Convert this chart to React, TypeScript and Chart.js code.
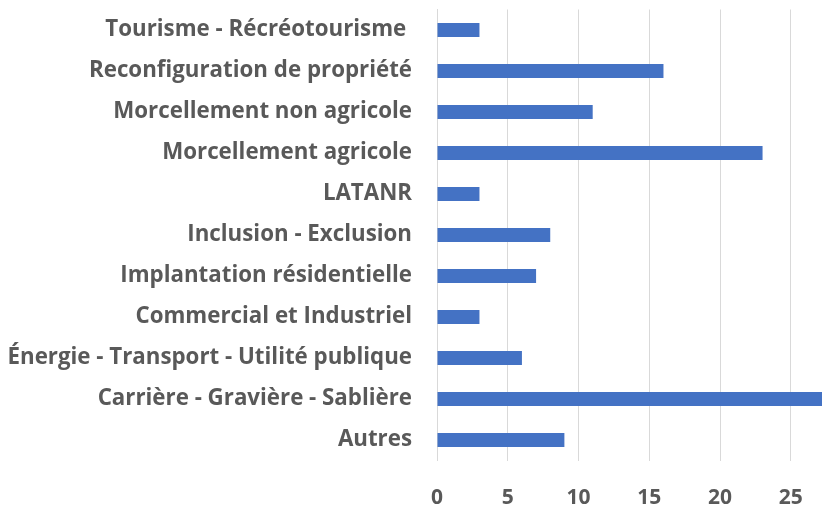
import React, { useEffect, useRef } from "react";
import { Chart, registerables } from "chart.js";

Chart.register(...registerables);

const categories = [
  "Tourisme - Récréotourisme ",
  "Reconfiguration de propriété",
  "Morcellement non agricole",
  "Morcellement agricole",
  "LATANR",
  "Inclusion - Exclusion",
  "Implantation résidentielle",
  "Commercial et Industriel",
  "Énergie - Transport - Utilité publique",
  "Carrière - Gravière - Sablière",
  "Autres",
];
const values = [3, 16, 11, 23, 3, 8, 7, 3, 6, 28, 9];
const xMin = 0;
const xMax = 27.2;
const xStep = 5;

export default function App() {
  const ref = useRef<HTMLCanvasElement | null>(null);
  useEffect(() => {
    if (!ref.current) return;
    const font = { family: "'Open Sans', sans-serif", weight: "bold" as const, size: 22.3 };
    const chart = new Chart(ref.current, {
      type: "bar",
      data: {
        labels: categories,
        datasets: [
          {
            data: values,
            backgroundColor: "#4472C4",
            barPercentage: 0.34,
            categoryPercentage: 1,
          },
        ],
      },
      options: {
        indexAxis: "y",
        animation: false,
        responsive: false,
        maintainAspectRatio: false,
        layout: { padding: { top: 9.5, right: 0, bottom: 0, left: 0 } },
        plugins: { legend: { display: false }, tooltip: { enabled: false } },
        scales: {
          x: {
            min: xMin,
            max: xMax,
            ticks: {
              stepSize: xStep,
              includeBounds: false,
              color: "#595959",
              font: { ...font, size: 21 },
              padding: 25,
            },
            grid: { color: "#d9d9d9", drawTicks: false, tickLength: 0 },
            border: { display: false },
            afterFit: (s: any) => {
              s.height = 47.5;
              s.paddingLeft = 0;
              s.paddingRight = 0;
            },
          },
          y: {
            ticks: { color: "#595959", font, padding: 25, autoSkip: false },
            grid: { display: false, drawTicks: false },
            border: { display: true, color: "#d9d9d9" },
            afterFit: (s: any) => {
              s.width = 437;
              s.paddingTop = 0;
              s.paddingBottom = 0;
            },
          },
        },
      },
    });
    return () => chart.destroy();
  }, []);
  return (
    <div style={{ position: "fixed", left: 0, top: 0, width: 822, height: 508, background: "#fff" }}>
      <canvas ref={ref} width={822} height={508} style={{ display: "block" }} />
    </div>
  );
}
